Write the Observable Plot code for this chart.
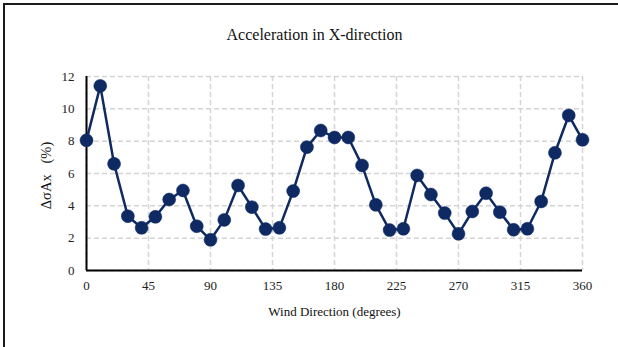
<!DOCTYPE html>
<html>
<head>
<meta charset="utf-8">
<script src="https://cdn.jsdelivr.net/npm/d3@7"></script>
<script src="https://cdn.jsdelivr.net/npm/@observablehq/plot@0.6"></script>
<style>
  html, body { margin: 0; padding: 0; background: #fff; }
  #wrap { position: relative; width: 618px; height: 347px; overflow: hidden; }
  #frame { position: absolute; left: 3px; top: 3px; width: 640px; height: 400px;
           border-left: 2px solid #1a1a1a; border-top: 2px solid #1a1a1a; box-sizing: border-box; pointer-events: none; }
  #chart { position: absolute; left: 0; top: 0; }
  #chart svg text { font-family: 'Liberation Serif', 'Times New Roman', serif; }
</style>
</head>
<body>
<div id="wrap"><div id="chart"></div><div id="frame"></div></div>
<script>
const title = "Acceleration in X-direction";
const xLabel = "Wind Direction (degrees)";
const yLabel = "ΔσAx\u2002 (%)";
const directions = [0,10,20,30,40,50,60,70,80,90,100,110,120,130,140,150,160,170,180,190,200,210,220,230,240,250,260,270,280,290,300,310,320,330,340,350,360];
const values = [8.05,11.42,6.6,3.36,2.64,3.32,4.39,4.95,2.74,1.9,3.13,5.26,3.92,2.56,2.64,4.91,7.63,8.66,8.23,8.23,6.5,4.06,2.5,2.58,5.88,4.7,3.55,2.27,3.65,4.78,3.61,2.52,2.58,4.27,7.28,9.59,8.08];
const xTicks = [0,45,90,135,180,225,270,315,360];
const yTicks = [0,2,4,6,8,10,12];

const data = directions.map((d, i) => ({dir: d, val: values[i]}));
const navy = "#0f2a63";
const font = "'Liberation Serif', 'Times New Roman', serif";

const chart = Plot.plot({
  width: 618,
  height: 347,
  marginLeft: 86,
  marginRight: 36,
  marginTop: 76,
  marginBottom: 77,
  style: {fontFamily: font, fontSize: "13px", color: "#222", background: "transparent"},
  x: {domain: [0, 360], ticks: xTicks},
  y: {domain: [0, 12], ticks: yTicks},
  marks: [
    Plot.gridX(xTicks, {stroke: "#d4d4d4", strokeOpacity: 1, strokeWidth: 1.5, strokeDasharray: "5,3"}),
    Plot.gridY(yTicks, {stroke: "#d4d4d4", strokeOpacity: 1, strokeWidth: 1.5, strokeDasharray: "5,3"}),
    Plot.axisX(xTicks, {tickSize: 0, tickPadding: 10, label: null, fontSize: 13, fontFamily: font, fill: "#222"}),
    Plot.axisY(yTicks, {tickSize: 0, tickPadding: 12, label: null, fontSize: 13, fontFamily: font, fill: "#222"}),
    Plot.ruleX([0], {stroke: "#000", strokeWidth: 2}),
    Plot.ruleY([0], {stroke: "#000", strokeWidth: 2}),
    Plot.line(data, {x: "dir", y: "val", stroke: navy, strokeWidth: 2.5}),
    Plot.dot(data, {x: "dir", y: "val", r: 6.5, fill: navy, stroke: navy, strokeWidth: 0.5}),
    Plot.text([title], {frameAnchor: "top", textAnchor: "middle", lineAnchor: "middle", dx: -20, dy: -42, fontSize: 16, fill: "#111", fontFamily: font}),
    Plot.text([xLabel], {frameAnchor: "bottom", textAnchor: "middle", lineAnchor: "middle", dy: 41, fontSize: 13, fill: "#111", fontFamily: font}),
    Plot.text([yLabel], {frameAnchor: "left", textAnchor: "middle", lineAnchor: "middle", dx: -40, dy: 2, rotate: -90, fontSize: 14.5, fill: "#111", fontFamily: font})
  ]
});
document.getElementById("chart").appendChild(chart);
</script>
</body>
</html>
